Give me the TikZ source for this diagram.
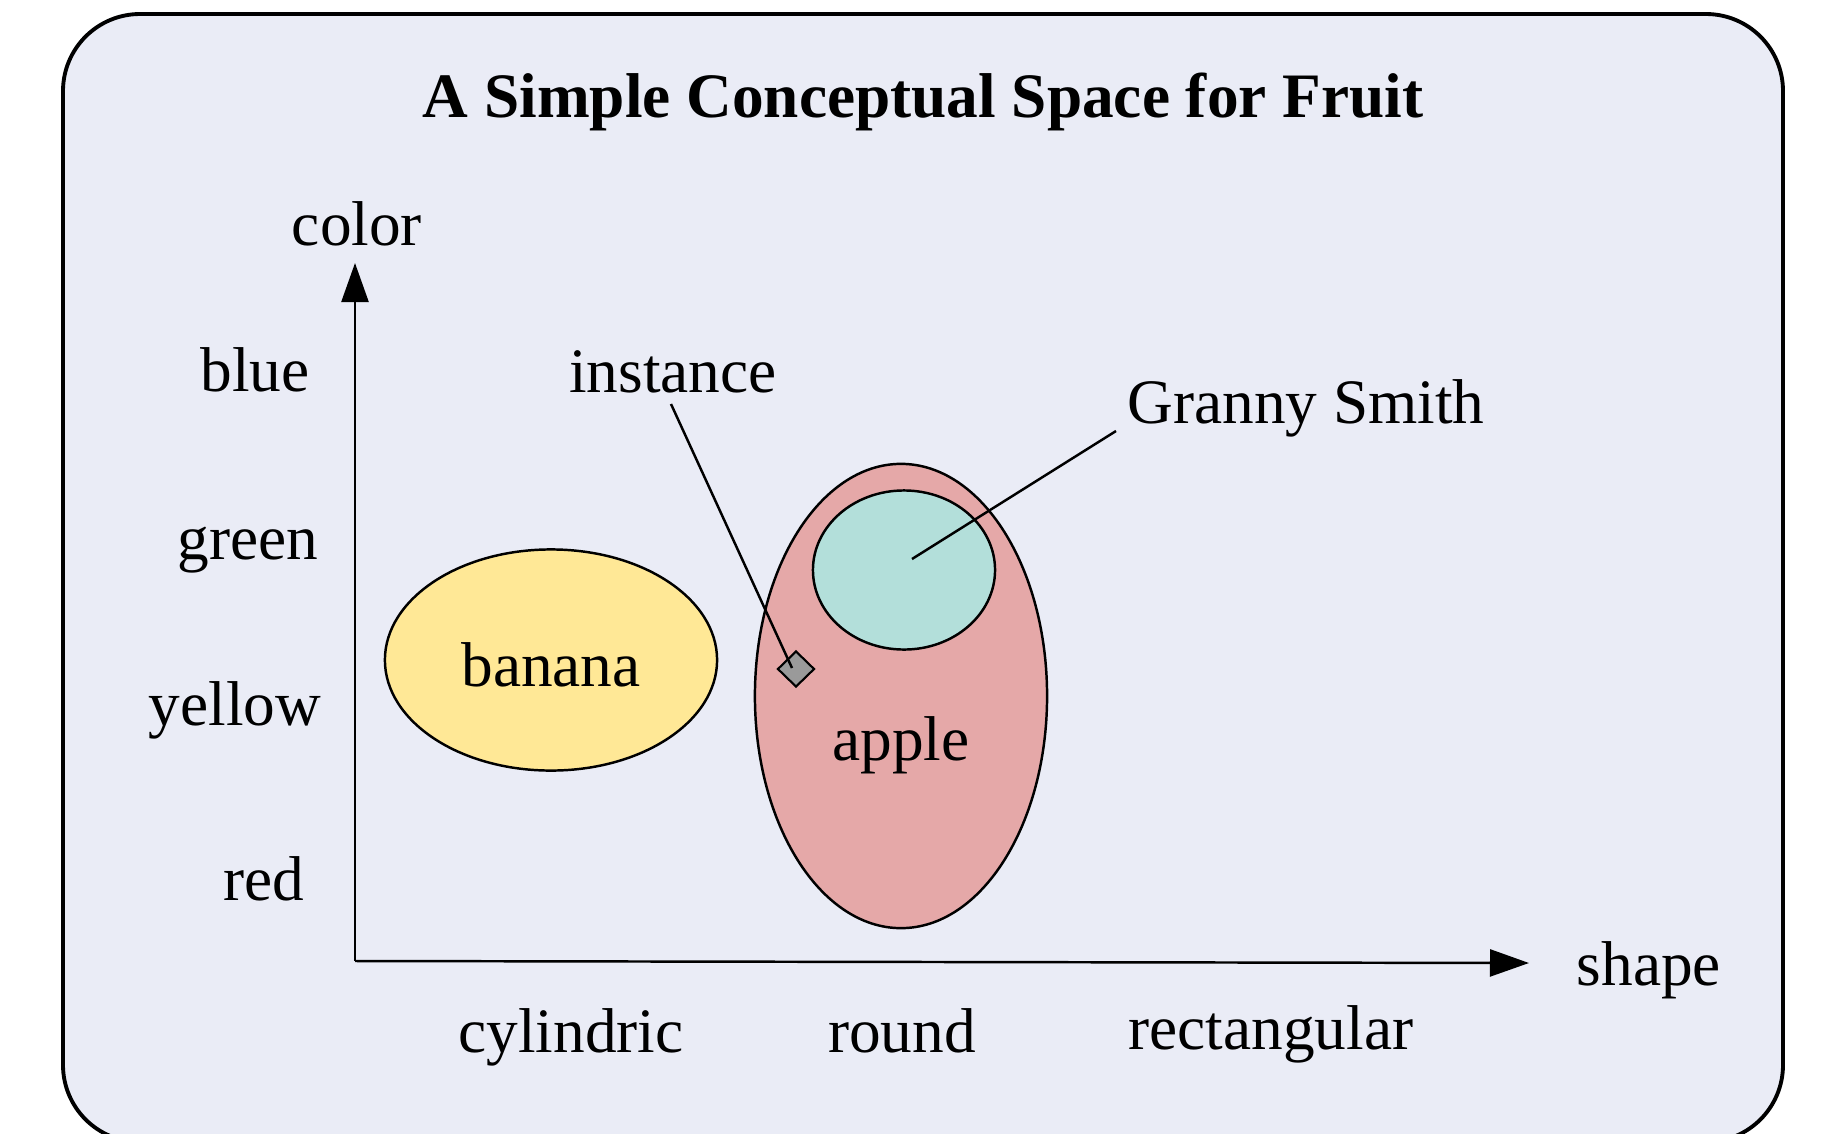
\documentclass[tikz,border=0pt]{standalone}
\usepackage{fontspec}
\setmainfont{Liberation Serif}
\usetikzlibrary{arrows.meta,shapes.geometric}

\definecolor{panelbg}{HTML}{EAECF6}
\definecolor{bananafill}{HTML}{FFE896}
\definecolor{applefill}{HTML}{E5A8A8}
\definecolor{grannyfill}{HTML}{B3DFDA}
\definecolor{pointfill}{HTML}{9A9A9A}

\tikzset{
  lbl/.style={font=\fontsize{18}{22}\selectfont, inner sep=0pt, anchor=base},
  region/.style={ellipse, draw=black, line width=0.7pt, inner sep=0pt},
  axis/.style={line width=0.7pt, -{Triangle[length=0.39cm, width=0.27cm]}},
  leader/.style={line width=0.7pt},
}

\begin{document}
\begin{tikzpicture}[x=0.01cm, y=-0.01cm]
  % page extent
  \useasboundingbox (0,0) rectangle (1827,1133);
  \clip (0,0) rectangle (1827,1133);

  % rounded panel
  \draw[fill=panelbg, line width=1.1pt, rounded corners=0.77cm]
    (63,14) rectangle (1783,1142);

  % title
  \node[lbl, font=\fontsize{18}{22}\selectfont\bfseries] (title) at (923,117)
    {A Simple Conceptual Space for Fruit};

  % axes
  \coordinate (origin) at (355,961);
  \coordinate (ytip) at (355,263);
  \coordinate (xtip) at (1529,963);
  \draw[axis] (origin) -- (ytip);
  \draw[axis] (origin) -- (xtip);

  % axis names
  \node[lbl] (colorlbl) at (357,245) {color};
  \node[lbl] (shapelbl) at (1649,985) {shape};

  % color values
  \node[lbl] (blue) at (255,391) {blue};
  \node[lbl] (green) at (248,559) {green};
  \node[lbl] (yellow) at (235,725) {yellow};
  \node[lbl] (red) at (264,900) {red};

  % shape values
  \node[lbl] (cyl) at (571,1052) {cylindric};
  \node[lbl] (round) at (902,1052) {round};
  \node[lbl] (rect) at (1271,1049) {rectangular};

  % concept regions
  \node[region, fill=bananafill, minimum width=3.32cm, minimum height=2.21cm]
    (banana) at (551,660) {};
  \node[lbl] (bananalbl) at (551,686) {banana};

  \node[region, fill=applefill, minimum width=2.92cm, minimum height=4.64cm]
    (apple) at (901,696) {};
  \node[lbl] (applelbl) at (901,760) {apple};

  \node[region, fill=grannyfill, minimum width=1.82cm, minimum height=1.59cm]
    (granny) at (904,570) {};

  % an instance point
  \node[diamond, draw=black, fill=pointfill, line width=0.6pt, inner sep=0pt,
        minimum width=0.37cm, minimum height=0.36cm] (point) at (796,669) {};

  % annotations
  \node[lbl] (instance) at (673,392) {instance};
  \node[lbl] (grannylbl) at (1306,423) {Granny Smith};
  \coordinate (instfoot) at (671,404);
  \coordinate (pointdot) at (792,668);
  \coordinate (grannyfoot) at (1116,431);
  \coordinate (grannydot) at (912,559);
  \draw[leader] (instfoot) -- (pointdot);
  \draw[leader] (grannyfoot) -- (grannydot);
\end{tikzpicture}
\end{document}
